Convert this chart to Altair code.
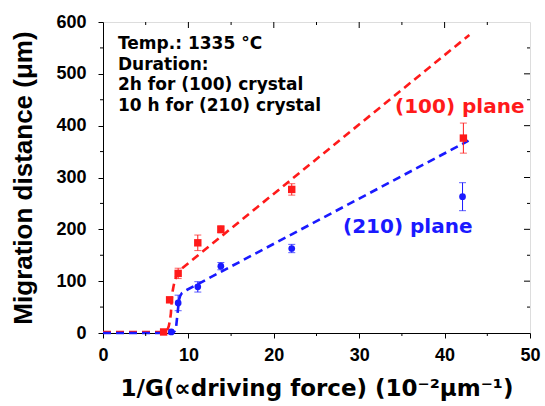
import altair as alt
import pandas as pd

# measured points
red_x = [7.1, 7.8, 8.8, 11.1, 13.8, 22.1, 42.2]
red_y = [2, 64, 115, 174, 200, 277, 376]
red_err = [0, 4, 10, 15, 7, 11, 29]

blue_x = [8.0, 8.8, 11.1, 13.8, 22.1, 42.1]
blue_y = [2, 58, 89, 129, 163, 263]
blue_err = [0, 15, 10, 7, 8, 27]

# fitted curves
red_fit_x = [0, 7.3, 7.55, 7.7, 7.85, 7.95, 8.07, 8.17, 8.26, 8.4, 8.57, 8.8, 9.04, 42.9]
red_fit_y = [2, 2, 6, 13, 25, 38, 70, 82, 90, 101, 109, 116, 122, 575]
blue_fit_x = [0, 8.2, 8.4, 8.57, 8.73, 8.9, 9.05, 9.24, 9.5, 9.8, 42.8]
blue_fit_y = [0, 0, 4, 13, 38, 64, 72, 77, 80, 83, 371]

x_minor = [5, 15, 25, 35, 45]
y_minor = [50, 150, 250, 350, 450, 550]
x_major_top = [10, 20, 30, 40]
y_major_right = [100, 200, 300, 400, 500]

notes = ["Temp.: 1335 °C", "Duration:", "2h for (100) crystal", "10 h for (210) crystal"]
label_red = "(100) plane"
label_blue = "(210) plane"

RED = "#ff1a1a"
BLUE = "#1a1aff"
FONT = "DejaVu Sans"
AFONT = "Liberation Sans"
W, H = 427, 311

xs = alt.Scale(domain=[0, 50], nice=False)
ys = alt.Scale(domain=[0, 600], nice=False)

pts = pd.DataFrame({
    "x": red_x + blue_x,
    "y": red_y + blue_y,
    "lo": [a - b for a, b in zip(red_y, red_err)] + [a - b for a, b in zip(blue_y, blue_err)],
    "hi": [a + b for a, b in zip(red_y, red_err)] + [a + b for a, b in zip(blue_y, blue_err)],
    "s": ["red"] * len(red_x) + ["blue"] * len(blue_x),
})
red_pts = pts[pts.s == "red"]
blue_pts = pts[pts.s == "blue"]
red_eb = red_pts[red_pts.hi > red_pts.lo]
blue_eb = blue_pts[blue_pts.hi > blue_pts.lo]

fit_red = pd.DataFrame({"x": red_fit_x, "y": red_fit_y})
fit_blue = pd.DataFrame({"x": blue_fit_x, "y": blue_fit_y})

X = alt.X("x:Q", scale=xs, axis=alt.Axis(
    title="1/G(∝driving force) (10⁻²μm⁻¹)", values=[0, 10, 20, 30, 40, 50],
    labelFont=AFONT, labelFontSize=18, labelFontWeight="bold", labelColor="black",
    titleFont=FONT, titleFontSize=23, titleFontWeight="bold", titleColor="black",
    tickSize=5, tickColor="black", domainColor="black", grid=False, labelPadding=8,
    titlePadding=13, labelFlush=False))
Y = alt.Y("y:Q", scale=ys, axis=alt.Axis(
    title="Migration distance (μm)", values=[0, 100, 200, 300, 400, 500, 600],
    labelFont=AFONT, labelFontSize=18, labelFontWeight="bold", labelColor="black",
    titleFont=AFONT, titleFontSize=26, titleFontWeight="bold", titleColor="black",
    tickSize=5, tickColor="black", domainColor="black", grid=False, labelPadding=12,
    titlePadding=19, labelFlush=False))

def xq(f="x"):
    return alt.X(f + ":Q", scale=xs)

def yq(f="y"):
    return alt.Y(f + ":Q", scale=ys)

base_line_red = alt.Chart(fit_red).mark_line(color=RED, strokeWidth=2.6, strokeDash=[8, 5]).encode(x=X, y=Y)
base_line_blue = alt.Chart(fit_blue).mark_line(color=BLUE, strokeWidth=2.6, strokeDash=[8, 5]).encode(x=xq(), y=yq())

def errbars(df, color):
    r = alt.Chart(df).mark_rule(color=color, strokeWidth=1).encode(x=xq(), y=yq("lo"), y2="hi:Q")
    t1 = alt.Chart(df).mark_tick(color=color, thickness=1, size=7, orient="horizontal").encode(x=xq(), y=yq("lo"))
    t2 = alt.Chart(df).mark_tick(color=color, thickness=1, size=7, orient="horizontal").encode(x=xq(), y=yq("hi"))
    return [r, t1, t2]

red_marks = alt.Chart(red_pts).mark_point(shape="square", filled=True, color=RED, size=55, opacity=1).encode(x=xq(), y=yq())
blue_marks = alt.Chart(blue_pts).mark_point(shape="circle", filled=True, color=BLUE, size=45, opacity=1).encode(x=xq(), y=yq())

# minor ticks on bottom/left, inward ticks on top/right
xminor = alt.Chart(pd.DataFrame({"x": x_minor})).mark_rule(color="black", strokeWidth=1).encode(
    x=xq(), y=alt.value(H), y2=alt.value(H + 3))
yminor = alt.Chart(pd.DataFrame({"y": y_minor})).mark_rule(color="black", strokeWidth=1).encode(
    y=yq(), x=alt.value(0), x2=alt.value(-3))
xtop = alt.Chart(pd.DataFrame({"x": x_major_top})).mark_rule(color="black", strokeWidth=1).encode(
    x=xq(), y=alt.value(0), y2=alt.value(6))
xtop_minor = alt.Chart(pd.DataFrame({"x": x_minor})).mark_rule(color="black", strokeWidth=1).encode(
    x=xq(), y=alt.value(0), y2=alt.value(3))
yright = alt.Chart(pd.DataFrame({"y": y_major_right})).mark_rule(color="black", strokeWidth=1).encode(
    y=yq(), x=alt.value(W), x2=alt.value(W - 6))
yright_minor = alt.Chart(pd.DataFrame({"y": y_minor})).mark_rule(color="black", strokeWidth=1).encode(
    y=yq(), x=alt.value(W), x2=alt.value(W - 3))

notes_df = pd.DataFrame({"t": ["\n".join(notes)]})
notes_txt = alt.Chart(notes_df).mark_text(
    align="left", baseline="alphabetic", font=FONT, fontSize=17, fontWeight="bold", color="black",
    lineBreak="\n", lineHeight=20.6
).encode(text="t:N", x=alt.value(15), y=alt.value(27))

lab_red = alt.Chart(pd.DataFrame({"t": [label_red]})).mark_text(
    align="left", baseline="middle", font=FONT, fontSize=20, fontWeight="bold", color=RED
).encode(text="t:N", x=alt.value(292), y=alt.value(85))
lab_blue = alt.Chart(pd.DataFrame({"t": [label_blue]})).mark_text(
    align="left", baseline="middle", font=FONT, fontSize=20, fontWeight="bold", color=BLUE
).encode(text="t:N", x=alt.value(240), y=alt.value(205))

chart = alt.layer(
    base_line_red, base_line_blue,
    *errbars(red_eb, RED), *errbars(blue_eb, BLUE),
    red_marks, blue_marks,
    xminor, yminor, xtop, xtop_minor, yright, yright_minor,
    notes_txt, lab_red, lab_blue,
).properties(
    width=W, height=H,
    autosize=alt.AutoSizeParams(type="none"),
    padding={"left": 103, "top": 22, "right": 15, "bottom": 73},
).configure_view(stroke="black", strokeWidth=1.5).configure(background="white")

chart.save("out.html", embed_options={"renderer": "svg", "actions": False})
